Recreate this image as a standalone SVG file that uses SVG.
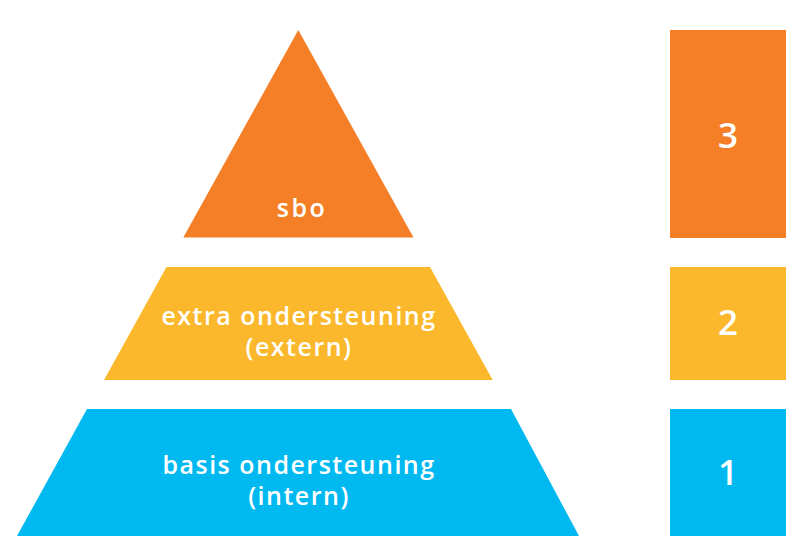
<svg xmlns="http://www.w3.org/2000/svg" width="787" height="538" viewBox="0 0 787 538">
<style>
.o{fill:#F47F27}.y{fill:#FBB82C}.b{fill:#00B9F0}
.t{font-family:"Open Sans","Noto Sans",sans-serif;font-weight:600;fill:#FFFFFF;text-anchor:middle;font-size:25px;letter-spacing:1.5px}
.n{font-family:"Open Sans","Noto Sans",sans-serif;font-weight:600;fill:#FFFFFF;text-anchor:middle;font-size:35px}
</style>
<rect width="787" height="538" fill="#FFFFFF"/>
<g id="level3">
<polygon class="o" points="298.3,30 413.5,237.5 183.3,237.5"/>
<text class="t" x="302" y="217" style="letter-spacing:2.5px">sbo</text>
</g>
<g id="level2">
<polygon class="y" points="166.5,267 430,267 492.7,380 104,380"/>
<text class="t" x="299" y="324.5">extra ondersteuning</text>
<text class="t" x="299" y="356">(extern)</text>
</g>
<g id="level1">
<polygon class="b" points="87,409 511,409 579,536 17,536"/>
<text class="t" x="299" y="473.5">basis ondersteuning</text>
<text class="t" x="299" y="505">(intern)</text>
</g>
<g id="box3">
<rect class="o" x="670" y="30" width="116" height="208"/>
<text class="n" x="728" y="147.5">3</text>
</g>
<g id="box2">
<rect class="y" x="670" y="267" width="116" height="113"/>
<text class="n" x="728" y="335">2</text>
</g>
<g id="box1">
<rect class="b" x="670" y="409" width="116" height="127"/>
<text class="n" x="728" y="484.5">1</text>
</g>
<g id="connectors"></g>
</svg>
